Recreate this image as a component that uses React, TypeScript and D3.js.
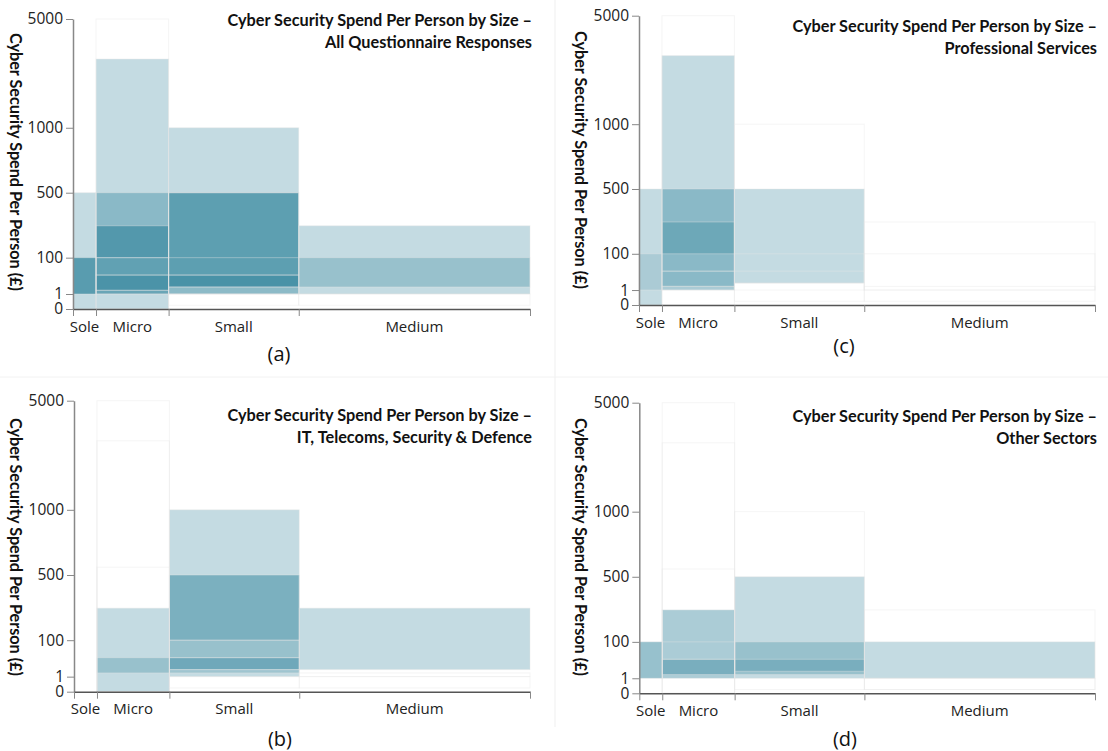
import React, { useEffect, useRef } from 'react';
import * as d3 from 'd3';

// company size columns and their relative widths
const sizes = ['Sole', 'Micro', 'Small', 'Medium'];
const sizeWeights = [23, 72.5, 130, 231];

// spend axis (non linear, hand drawn bands)
const yTicks = [0, 1, 100, 500, 1000, 5000];
const spendBreaks = [0, 1, 5, 10, 50, 100, 250, 500, 1000, 2500, 5000];
const spendBreakFractions = [0, 0.0517, 0.0645, 0.0759, 0.117, 0.177, 0.287, 0.401, 0.625, 0.862, 1];

type Band = { size: string; lo: number; hi: number; share: number };
const b = (size: string, lo: number, hi: number, share: number): Band => ({ size, lo, hi, share });

// share 0 = empty range, only the outline is left
const allResponses: Band[] = [
    b('Sole', 0, 500, 0.31), b('Sole', 1, 100, 0.8),
    b('Micro', 0, 5000, 0), b('Micro', 0, 2500, 0.31), b('Micro', 1, 500, 0.435), b('Micro', 100, 250, 0.74),
    b('Micro', 50, 100, 0.54), b('Micro', 5, 50, 0.85), b('Micro', 1, 5, 0.44),
    b('Small', 0.25, 1, 0), b('Small', 1, 1000, 0.31), b('Small', 50, 500, 0.77), b('Small', 100, 500, 0),
    b('Small', 10, 50, 0.93), b('Small', 1, 10, 0.42),
    b('Medium', 0.25, 1, 0), b('Medium', 1, 250, 0.31), b('Medium', 10, 100, 0.33),
];

const professional: Band[] = [
    b('Sole', 0, 500, 0.31), b('Sole', 1, 100, 0.19),
    b('Micro', 0, 5000, 0), b('Micro', 1, 2500, 0.31), b('Micro', 50, 500, 0.435), b('Micro', 5, 50, 0.435),
    b('Micro', 100, 250, 0.385), b('Micro', 1, 5, 0.19),
    b('Small', 0.25, 1000, 0), b('Small', 10, 500, 0.31), b('Small', 50, 100, 0), b('Small', 1, 10, 0),
    b('Medium', 0.25, 250, 0), b('Medium', 1, 100, 0), b('Medium', 1, 5, 0),
];

const itTelecoms: Band[] = [
    b('Micro', 0, 5000, 0), b('Micro', 0, 2500, 0), b('Micro', 0, 560, 0), b('Micro', 0, 250, 0.31),
    b('Micro', 5, 50, 0.33),
    b('Small', 0.25, 1, 0), b('Small', 1, 1000, 0.31), b('Small', 100, 500, 0.55), b('Small', 50, 100, 0.33),
    b('Small', 10, 50, 0.64), b('Small', 5, 10, 0.28),
    b('Medium', 10, 250, 0.31), b('Medium', 1, 5, 0), b('Medium', 0.25, 1, 0),
];

const otherSectors: Band[] = [
    b('Sole', 1, 100, 0.54),
    b('Micro', 0, 5000, 0), b('Micro', 0, 2500, 0), b('Micro', 0, 560, 0), b('Micro', 1, 250, 0.44),
    b('Micro', 50, 100, 0), b('Micro', 5, 50, 0.46),
    b('Small', 0.25, 1000, 0), b('Small', 1, 500, 0.31), b('Small', 5, 100, 0.33), b('Small', 10, 50, 0.35),
    b('Medium', 0.25, 250, 0), b('Medium', 0.25, 1, 0), b('Medium', 1, 100, 0.31),
];

const panels = [
    { letter: '(a)', title: ['Cyber Security Spend Per Person by Size –', 'All Questionnaire Responses'], data: allResponses,
      left: 73, right: 530, top: 19, bottom: 309, titleY: 26, labX: 16, labY: 162, letX: 279, letY: 353 },
    { letter: '(c)', title: ['Cyber Security Spend Per Person by Size –', 'Professional Services'], data: professional,
      left: 639, right: 1095, top: 15.7, bottom: 305, titleY: 32, labX: 581, labY: 160, letX: 844, letY: 345 },
    { letter: '(b)', title: ['Cyber Security Spend Per Person by Size –', 'IT, Telecoms, Security & Defence'], data: itTelecoms,
      left: 74, right: 530, top: 400.7, bottom: 691.7, titleY: 421, labX: 16, labY: 547, letX: 280, letY: 738 },
    { letter: '(d)', title: ['Cyber Security Spend Per Person by Size –', 'Other Sectors'], data: otherSectors,
      left: 639.3, right: 1095, top: 402.7, bottom: 693.3, titleY: 422, labX: 581, labY: 547, letX: 845, letY: 738 },
];

const TEAL = '#3f8ca2';
const BOLD = 'Lato, "Open Sans", sans-serif';
const REG = '"Open Sans", Lato, sans-serif';

function drawPanel(svg: any, p: any) {
    const cum = [0];
    sizeWeights.forEach((w) => cum.push(cum[cum.length - 1] + w));
    const x = d3.scaleLinear().domain([0, cum[cum.length - 1]]).range([p.left, p.right]);
    const y = d3.scaleLinear()
        .domain(spendBreaks)
        .range(spendBreakFractions.map((f) => p.bottom - f * (p.bottom - p.top)));
    const opacity = d3.scaleLinear().domain([0, 1]).range([0, 1]);
    const col = (s: string) => sizes.indexOf(s);

    const g = svg.append('g');

    g.append('g').selectAll('rect')
        .data(p.data.filter((d: Band) => d.share > 0))
        .join('rect')
        .attr('x', (d: Band) => x(cum[col(d.size)]))
        .attr('width', (d: Band) => x(cum[col(d.size) + 1]) - x(cum[col(d.size)]))
        .attr('y', (d: Band) => y(d.hi))
        .attr('height', (d: Band) => y(d.lo) - y(d.hi))
        .attr('fill', TEAL)
        .attr('fill-opacity', (d: Band) => opacity(d.share));

    g.append('g').selectAll('rect')
        .data(p.data)
        .join('rect')
        .attr('x', (d: Band) => x(cum[col(d.size)]))
        .attr('width', (d: Band) => x(cum[col(d.size) + 1]) - x(cum[col(d.size)]))
        .attr('y', (d: Band) => y(d.hi))
        .attr('height', (d: Band) => y(d.lo) - y(d.hi))
        .attr('fill', 'none')
        .attr('stroke', '#e6e6e6')
        .attr('stroke-opacity', 0.4);

    // y axis
    const ya = g.append('g')
        .attr('transform', `translate(${p.left},0)`)
        .call(d3.axisLeft(y).tickValues(yTicks).tickSize(7).tickSizeOuter(0).tickPadding(3).tickFormat(d3.format('d')));
    ya.select('.domain').attr('stroke', '#888').attr('stroke-width', 1.5);
    ya.selectAll('.tick line').attr('stroke', '#888');
    ya.selectAll('.tick text').attr('font-family', REG).attr('font-size', 15.5).attr('fill', '#222');

    // x axis: ticks at the column edges
    const xa = g.append('g')
        .attr('transform', `translate(0,${p.bottom})`)
        .call(d3.axisBottom(x).tickValues(cum).tickSize(7).tickSizeOuter(0).tickFormat(() => ''));
    xa.select('.domain').attr('stroke', '#555').attr('stroke-width', 1.5);
    xa.selectAll('.tick line').attr('stroke', '#888');

    g.append('g').selectAll('text')
        .data(sizes)
        .join('text')
        .attr('x', (d: string, i: number) => x((cum[i] + cum[i + 1]) / 2))
        .attr('y', p.bottom + 22.5)
        .attr('text-anchor', 'middle')
        .attr('font-family', REG)
        .attr('font-size', 15)
        .attr('fill', '#222')
        .text((d: string) => d);

    const t = g.append('text')
        .attr('text-anchor', 'end')
        .attr('font-family', BOLD)
        .attr('font-weight', 'bold')
        .attr('font-size', 16.3)
        .attr('fill', '#111');
    p.title.forEach((line: string, i: number) => {
        t.append('tspan').attr('x', p.right + 2).attr('y', p.titleY + i * 21.5).text(line);
    });

    g.append('text')
        .attr('transform', `translate(${p.labX},${p.labY}) rotate(90)`)
        .attr('text-anchor', 'middle')
        .attr('dominant-baseline', 'central')
        .attr('font-family', BOLD)
        .attr('font-weight', 'bold')
        .attr('font-size', 16.2)
        .attr('fill', '#111')
        .text('Cyber Security Spend Per Person (£)');

    g.append('text')
        .attr('x', p.letX)
        .attr('y', p.letY)
        .attr('text-anchor', 'middle')
        .attr('dominant-baseline', 'central')
        .attr('font-family', REG)
        .attr('font-size', 20)
        .attr('fill', '#111')
        .text(p.letter);
}

export default function App() {
    const ref = useRef<SVGSVGElement>(null);

    useEffect(() => {
        const svg = d3.select(ref.current);
        svg.selectAll('*').remove();
        svg.append('line').attr('x1', 555).attr('x2', 555).attr('y1', 0).attr('y2', 727).attr('stroke', '#efefef');
        svg.append('line').attr('x1', 0).attr('x2', 1108).attr('y1', 377).attr('y2', 377).attr('stroke', '#f2f2f2');
        panels.forEach((p) => drawPanel(svg, p));
    }, []);

    return (
        <svg ref={ref} width={1108} height={751}
            style={{ position: 'absolute', left: 0, top: 0, background: '#fff' }} />
    );
}
